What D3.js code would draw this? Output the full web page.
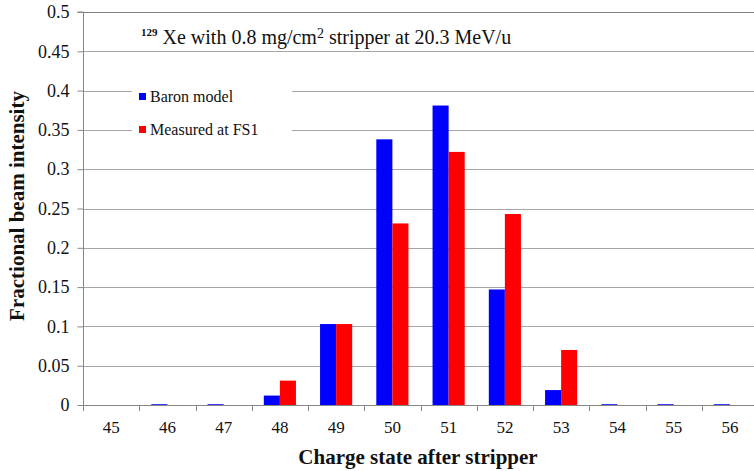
<!DOCTYPE html>
<html><head><meta charset="utf-8">
<script src="https://cdn.jsdelivr.net/npm/d3@7"></script>
<style>body{margin:0;background:#fff}svg{display:block}</style>
</head><body><svg id="c" width="754" height="471"></svg>
<script>
const categories = ["45","46","47","48","49","50","51","52","53","54","55","56"];
const baron = [0, 0.001, 0.001, 0.012, 0.103, 0.338, 0.381, 0.147, 0.019, 0.001, 0.001, 0.001];
const measured = [0, 0, 0, 0.031, 0.103, 0.231, 0.322, 0.243, 0.070, 0, 0, 0];
const yTicks = [0, 0.05, 0.1, 0.15, 0.2, 0.25, 0.3, 0.35, 0.4, 0.45, 0.5];
const seriesNames = ["Baron model", "Measured at FS1"];
const colors = ["#0000ff", "#ff0000"];

// pick an installed serif font
const cv = document.createElement("canvas").getContext("2d");
const probe = "abcdefghijklmnopqrstuvwxyzABCDEFGHIJ0123456789";
function width(f) { cv.font = "20px " + f; return cv.measureText(probe).width; }
const base = width("monospace");
const cands = ["Liberation Serif", "Times New Roman", "Tinos", "Nimbus Roman", "DejaVu Serif", "Noto Serif", "FreeSerif"];
let pick = cands.find(c => width(`"${c}", monospace`) !== base) || "serif";
const FF = `"${pick}", serif`;

const svg = d3.select("#c");
const L = 83, R = 758, T = 12, B = 405;
const x = d3.scaleBand().domain(categories).range([L, R]).paddingInner(0).paddingOuter(0);
const y = d3.scaleLinear().domain([0, 0.5]).range([B, T]);

// gridlines
svg.append("g").selectAll("line").data(yTicks.slice(1)).join("line")
  .attr("x1", L).attr("x2", 754).attr("y1", d => Math.round(y(d)) + 0.5).attr("y2", d => Math.round(y(d)) + 0.5)
  .attr("stroke", d => d === 0.5 ? "#808080" : "#a6a6a6").attr("stroke-width", 1);

// bars
const bw = x.bandwidth() / 3.5;
const data = [baron, measured];
data.forEach((vals, s) => {
  svg.append("g").selectAll("rect").data(vals.map((v, i) => ({c: categories[i], v}))).join("rect")
    .attr("x", d => x(d.c) + x.bandwidth() / 2 - bw + s * bw)
    .attr("width", bw)
    .attr("y", d => y(d.v))
    .attr("height", d => B - y(d.v))
    .attr("fill", colors[s]);
});

// y axis
const yAxis = d3.axisLeft(y).tickValues(yTicks).tickSize(6).tickFormat(d => d === 0 ? "0" : String(+d.toFixed(2)));
const gy = svg.append("g").attr("transform", `translate(${L + 0.5},0)`).call(yAxis)
  .attr("font-family", FF).attr("font-size", 18);
gy.select(".domain").attr("stroke", "#868686").attr("d", `M-6,${T}H0V${B}`);
gy.selectAll(".tick line").attr("stroke", "#868686");
gy.selectAll(".tick text").attr("fill", "#111").attr("x", -14);

// x axis
const xAxis = d3.axisBottom(x).tickSize(0).tickPadding(15);
const gx = svg.append("g").attr("transform", `translate(0,${B + 0.5})`).call(xAxis)
  .attr("font-family", FF).attr("font-size", 17);
gx.select(".domain").attr("stroke", "#868686").attr("d", `M${L},0H${R}`);
gx.selectAll(".tick text").attr("fill", "#111");
svg.append("g").selectAll("line").data(d3.range(categories.length + 1)).join("line")
  .attr("x1", i => Math.round(L + i * x.bandwidth()) + 0.5).attr("x2", i => Math.round(L + i * x.bandwidth()) + 0.5)
  .attr("y1", B).attr("y2", B + 6).attr("stroke", "#868686");

// axis titles
svg.append("text").attr("x", 418).attr("y", 464).attr("text-anchor", "middle").attr("font-family", FF)
  .attr("font-size", 21).attr("font-weight", "bold").attr("fill", "#111").text("Charge state after stripper");
svg.append("text").attr("transform", "translate(24,206) rotate(-90)").attr("text-anchor", "middle").attr("font-family", FF)
  .attr("font-size", 21).attr("font-weight", "bold").attr("fill", "#111").text("Fractional beam intensity");

// chart title
const title = svg.append("text").attr("x", 141).attr("y", 44).attr("font-size", 20).attr("fill", "#111").attr("font-family", FF);
title.append("tspan").attr("font-size", 11).attr("font-weight", "bold").attr("dy", -8).text("129");
title.append("tspan").attr("dy", 8).text(" Xe with 0.8 mg/cm");
title.append("tspan").attr("font-size", 14).attr("dy", -6).text("2");
title.append("tspan").attr("dy", 6).text("  stripper at 20.3 MeV/u");

// legend
const lg = svg.append("g").attr("font-family", FF);
lg.append("rect").attr("x", 132).attr("y", 75).attr("width", 160).attr("height", 70).attr("fill", "#fff");
seriesNames.forEach((n, i) => {
  lg.append("rect").attr("x", 139).attr("y", 93 + i * 33).attr("width", 7).attr("height", 7).attr("fill", colors[i]);
  lg.append("text").attr("x", 150).attr("y", 102 + i * 33).attr("font-size", 16).attr("fill", "#111").text(n);
});
</script></body></html>
